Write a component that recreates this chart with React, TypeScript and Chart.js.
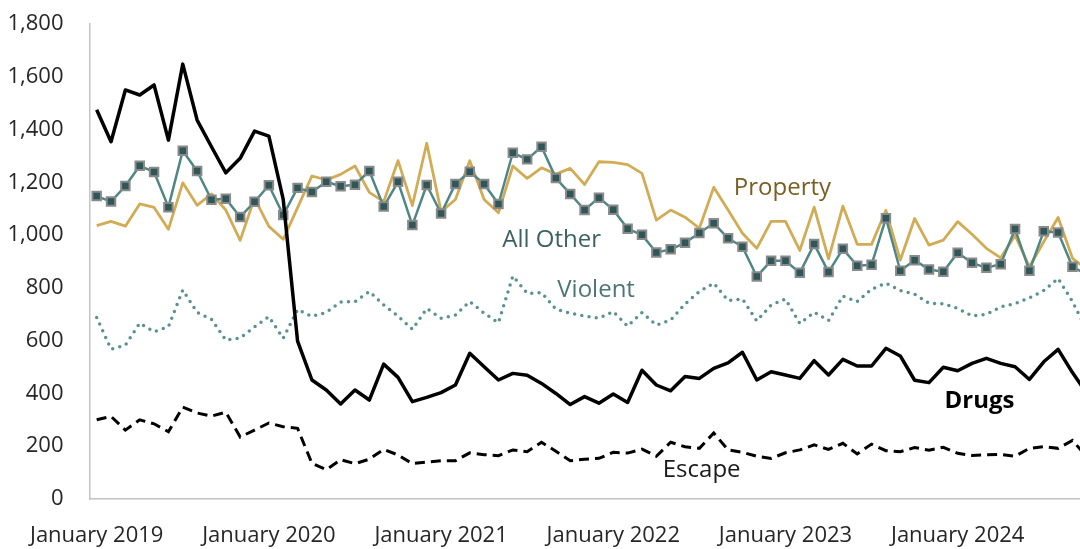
import React, { useEffect, useRef } from "react";
import { Chart, registerables } from "chart.js";

Chart.register(...registerables);

const MONTHS = [
  "January", "February", "March", "April", "May", "June",
  "July", "August", "September", "October", "November", "December",
];
const YEARS = [2019, 2020, 2021, 2022, 2023, 2024];
const MONTH_COUNT = 70;
const CATEGORIES = YEARS.flatMap((y) => MONTHS.map((m) => `${m} ${y}`)).slice(0, MONTH_COUNT);

const Y_TICKS = { min: 0, max: 1800, step: 200 };

const DRUGS = [
  1475, 1354, 1550, 1531, 1569, 1360, 1648, 1436, 1335, 1236, 1291, 1394,
  1375, 1135, 598, 451, 413, 360, 413, 375, 511, 461, 369, 385,
  403, 432, 552, 501, 451, 476, 469, 438, 400, 358, 388, 363,
  398, 366, 488, 432, 410, 464, 457, 495, 516, 556, 451, 482,
  470, 457, 524, 470, 529, 504, 504, 571, 542, 450, 441, 499,
  486, 514, 533, 514, 501, 453, 520, 567, 479, 400,
];

const ALL_OTHER = [
  1148, 1127, 1186, 1263, 1239, 1106, 1320, 1243, 1134, 1138, 1069, 1126,
  1189, 1076, 1179, 1163, 1202, 1185, 1191, 1243, 1108, 1202, 1038, 1190,
  1082, 1194, 1240, 1194, 1118, 1312, 1287, 1335, 1216, 1156, 1095, 1142,
  1096, 1024, 1001, 934, 946, 971, 1008, 1045, 988, 956, 843, 903,
  903, 857, 966, 860, 948, 884, 888, 1064, 865, 905, 870, 861,
  933, 895, 876, 890, 1023, 865, 1015, 1010, 880, 850,
];

const PROPERTY = [
  1036, 1052, 1034, 1118, 1105, 1022, 1198, 1113, 1156, 1095, 980, 1140,
  1033, 984, 1104, 1224, 1209, 1230, 1262, 1162, 1127, 1282, 1112, 1348,
  1089, 1135, 1282, 1135, 1085, 1262, 1215, 1255, 1231, 1253, 1192, 1278,
  1276, 1267, 1234, 1057, 1095, 1068, 1026, 1181, 1095, 1007, 950, 1052,
  1052, 942, 1106, 910, 1110, 965, 965, 1094, 905, 1063, 962, 981,
  1051, 1003, 950, 914, 999, 880, 975, 1067, 912, 870,
];

const VIOLENT = [
  688, 568, 583, 666, 634, 653, 792, 707, 681, 602, 610, 652,
  691, 609, 718, 692, 707, 746, 748, 786, 735, 693, 643, 722,
  685, 697, 748, 704, 668, 845, 779, 782, 719, 704, 693, 685,
  710, 655, 706, 659, 678, 739, 786, 818, 752, 758, 675, 735,
  758, 665, 708, 676, 769, 748, 795, 818, 790, 776, 742, 740,
  722, 694, 700, 728, 740, 762, 790, 836, 748, 640,
];

const ESCAPE = [
  300, 313, 261, 300, 285, 255, 348, 326, 314, 329, 235, 261,
  288, 274, 268, 135, 111, 149, 134, 151, 188, 167, 134, 140,
  145, 145, 175, 168, 164, 186, 179, 215, 181, 145, 151, 154,
  177, 174, 189, 162, 215, 198, 192, 250, 186, 177, 162, 154,
  175, 186, 205, 188, 211, 171, 208, 183, 179, 195, 185, 196,
  173, 165, 168, 169, 162, 192, 198, 192, 222, 160,
];

// Direct series labels: anchored at (category position, value)
const SERIES_LABELS = [
  { text: "Property", at: 44.4, value: 1152, color: "#7B5E22", bold: false },
  { text: "All Other", at: 28.26, value: 956, color: "#3B6262", bold: false },
  { text: "Violent", at: 32.1, value: 767, color: "#4A7676", bold: false },
  { text: "Drugs", at: 59.08, value: 344, color: "#000000", bold: true },
  { text: "Escape", at: 39.45, value: 83, color: "#1A1A1A", bold: false },
];

const FONT = '"Open Sans", "Noto Sans", sans-serif';

const labelPlugin = {
  id: "seriesLabels",
  afterDatasetsDraw(chart: any) {
    const ctx = chart.ctx;
    const xs = chart.scales.x;
    const ys = chart.scales.y;
    ctx.save();
    ctx.textAlign = "left";
    ctx.textBaseline = "alphabetic";
    for (const l of SERIES_LABELS) {
      ctx.font = `${l.bold ? "bold " : ""}24px ${FONT}`;
      ctx.fillStyle = l.color;
      ctx.fillText(l.text, xs.getPixelForValue(l.at), ys.getPixelForValue(l.value));
    }
    ctx.restore();
  },
};

export default function App() {
  const ref = useRef<HTMLCanvasElement | null>(null);

  useEffect(() => {
    let chart: Chart | null = null;
    let cancelled = false;
    const build = () => {
      if (cancelled || !ref.current) return;
      chart = new Chart(ref.current, {
        type: "line",
        data: {
          labels: CATEGORIES,
          datasets: [
            {
              label: "Drugs",
              data: DRUGS,
              borderColor: "#000000",
              borderWidth: 3.5,
              borderJoinStyle: "round",
              pointRadius: 0,
              tension: 0,
            },
            {
              label: "All Other",
              data: ALL_OTHER,
              borderColor: "#4F8686",
              borderWidth: 2.5,
              borderJoinStyle: "round",
              pointStyle: "rect",
              pointRadius: 6,
              pointBackgroundColor: "#2F5757",
              pointBorderColor: "#8A8A8A",
              pointBorderWidth: 2,
              tension: 0,
            },
            {
              label: "Property",
              data: PROPERTY,
              borderColor: "#D2AB55",
              borderWidth: 2.8,
              borderJoinStyle: "round",
              pointRadius: 0,
              tension: 0,
            },
            {
              label: "Violent",
              data: VIOLENT,
              borderColor: "#5B9191",
              borderWidth: 3.5,
              borderDash: [0, 7.3],
              borderCapStyle: "round",
              pointRadius: 0,
              tension: 0,
            },
            {
              label: "Escape",
              data: ESCAPE,
              borderColor: "#000000",
              borderWidth: 3,
              borderDash: [10, 6],
              pointRadius: 0,
              tension: 0,
            },
          ],
        },
        options: {
          responsive: false,
          animation: false,
          devicePixelRatio: 1,
          layout: { padding: { top: 24, right: 0, bottom: 0, left: 0 } },
          plugins: { legend: { display: false }, tooltip: { enabled: false } },
          scales: {
            x: {
              type: "category",
              offset: true,
              grid: { display: false, drawTicks: false },
              border: { display: true, color: "#C4C4C4", width: 1.5 },
              ticks: {
                autoSkip: false,
                maxRotation: 0,
                minRotation: 0,
                padding: 24,
                color: "#262626",
                font: { family: FONT, size: 22 },
                callback: (_v: any, i: number) =>
                  CATEGORIES[i].startsWith("January") ? CATEGORIES[i] : "",
              },
              afterFit: (s: any) => {
                s.height = 50;
                s.paddingLeft = 0;
                s.paddingRight = 0;
              },
            },
            y: {
              min: Y_TICKS.min,
              max: Y_TICKS.max,
              grid: { display: false, drawTicks: false },
              border: { display: true, color: "#C4C4C4", width: 1.5 },
              ticks: {
                stepSize: Y_TICKS.step,
                padding: 26,
                color: "#262626",
                font: { family: FONT, size: 22 },
                callback: (v: any) => Number(v).toLocaleString("en-US"),
              },
              afterFit: (s: any) => {
                s.width = 89.5;
                s.paddingTop = 0;
                s.paddingBottom = 0;
              },
            },
          },
        },
        plugins: [labelPlugin],
      } as any);
    };
    const fonts = (document as any).fonts;
    if (fonts && fonts.load) {
      Promise.all([
        fonts.load(`22px "Open Sans"`),
        fonts.load(`24px "Open Sans"`),
        fonts.load(`bold 24px "Open Sans"`),
      ])
        .catch(() => null)
        .then(build);
    } else {
      build();
    }
    return () => {
      cancelled = true;
      if (chart) chart.destroy();
    };
  }, []);

  return (
    <div
      style={{
        position: "fixed",
        left: 0,
        top: 0,
        width: 1080,
        height: 549,
        overflow: "hidden",
        background: "#ffffff",
      }}
    >
      <canvas
        ref={ref}
        width={1102}
        height={549}
        style={{ display: "block", width: 1102, height: 549 }}
      />
    </div>
  );
}
